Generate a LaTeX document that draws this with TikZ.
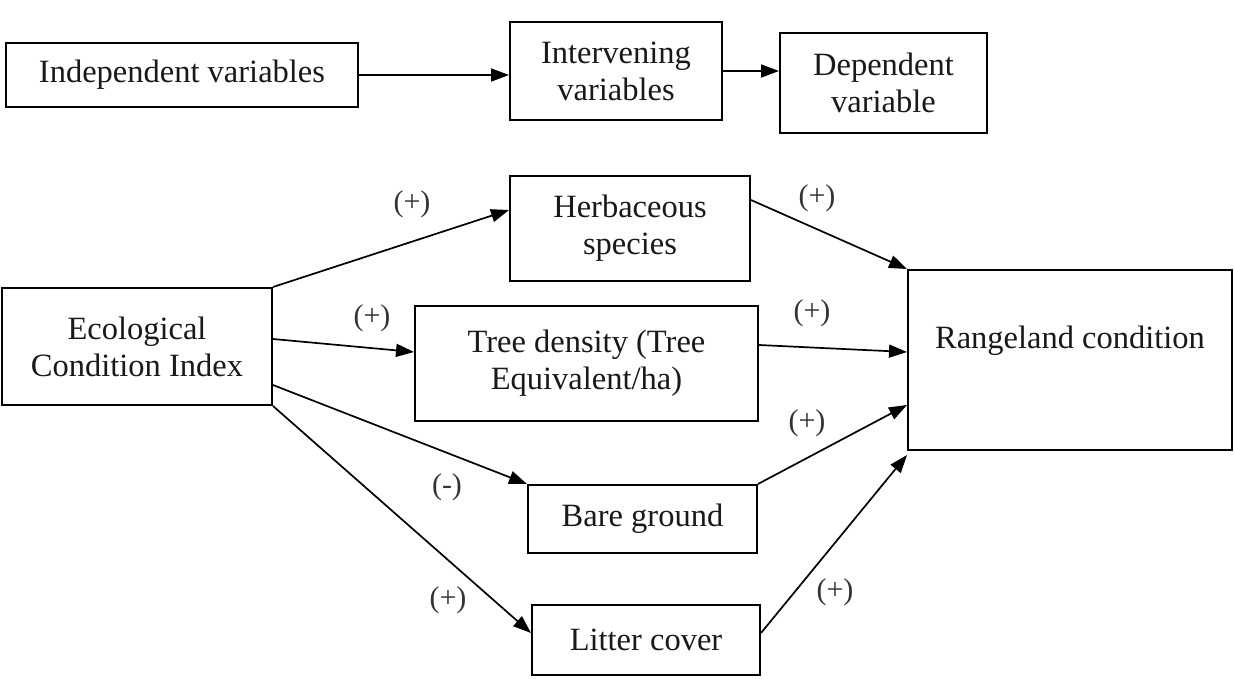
\documentclass[tikz,border=0pt]{standalone}
\usepackage{fontspec}
\setmainfont{Liberation Serif}
\usetikzlibrary{arrows.meta}
\begin{document}
\begin{tikzpicture}[x=1pt,y=-1pt,
 box/.style={draw, line width=2pt, align=center, inner sep=0pt, font=\fontsize{32.5}{37}\selectfont, text=black!90},
 arr/.style={line width=1.7pt, -{Triangle[length=18pt,width=13pt]}},
 sign/.style={font=\fontsize{30}{34}\selectfont, text=black!80, inner sep=0pt}]
\useasboundingbox (0,0) rectangle (1235,678);
% top row
\node[box, minimum width=352pt, minimum height=64pt] (indep) at (182,75) {Independent variables};
\node[box, minimum width=212pt, minimum height=98pt] (interv) at (616,71) {Intervening\\variables};
\node[box, minimum width=207pt, minimum height=100pt] (dep) at (883.5,83) {Dependent\\variable};
\draw[arr] (indep.east) -- (indep.east -| interv.west);
\draw[arr] (interv.east) -- (interv.east -| dep.west);
% bottom
\node[box, minimum width=270pt, minimum height=117pt] (eci) at (137,346.5) {Ecological\\Condition Index};
\node[box, minimum width=240pt, minimum height=105pt] (herb) at (630,228.5) {Herbaceous\\species};
\node[box, minimum width=343pt, minimum height=115pt] (tree) at (586.5,363.5) {Tree density (Tree\\Equivalent/ha)};
\node[box, minimum width=229pt, minimum height=68pt] (bare) at (642.5,519) {Bare ground};
\node[box, minimum width=228pt, minimum height=70pt] (litter) at (646,640) {Litter cover};
\node[box, minimum width=324pt, minimum height=180pt] (range) at (1070,360) {};
\node[font=\fontsize{32.5}{37}\selectfont, text=black!90, inner sep=0pt] (rangetext) at (1070,341) {Rangeland condition};
% arrows from ECI
\draw[arr] (eci.north east) -- ([yshift=18.5pt]herb.west);
\draw[arr] ([yshift=7.5pt]eci.east) -- ([yshift=11.5pt]tree.west);
\draw[arr] ([yshift=-38.5pt]eci.east) -- (bare.north west);
\draw[arr] (eci.south east) -- ([yshift=7pt]litter.west);
% arrows to rangeland
\draw[arr] ([yshift=28.5pt]herb.east) -- (range.north west);
\draw[arr] ([yshift=18.5pt]tree.east) -- ([yshift=8pt]range.west);
\draw[arr] (bare.north east) -- ([yshift=-45pt]range.west);
\draw[arr] ([yshift=7pt]litter.east) -- ([yshift=-4pt]range.south west);
% signs
\node[sign] (s1) at (412,204) {(+)};
\node[sign] (s2) at (372,318) {(+)};
\node[sign] (s3) at (447,487) {(-)};
\node[sign] (s4) at (448,600) {(+)};
\node[sign] (s5) at (817,198) {(+)};
\node[sign] (s6) at (812,313) {(+)};
\node[sign] (s7) at (807,423) {(+)};
\node[sign] (s8) at (835,592) {(+)};
\end{tikzpicture}
\end{document}
